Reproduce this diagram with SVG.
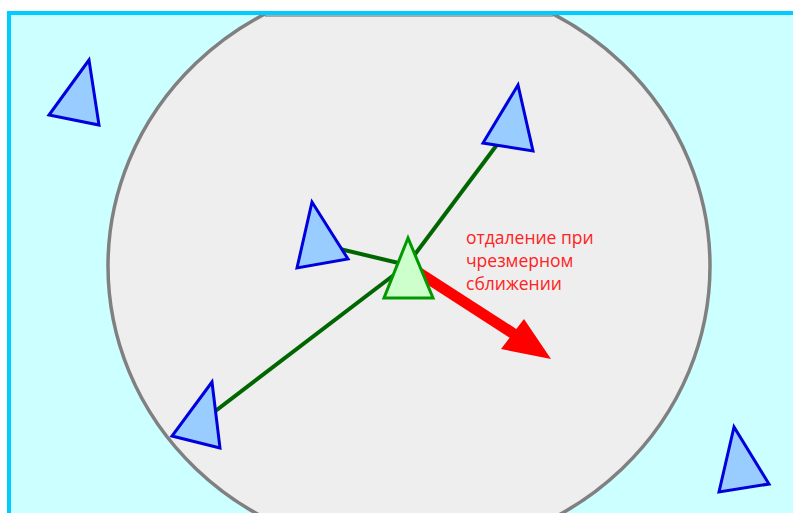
<svg xmlns="http://www.w3.org/2000/svg" width="793" height="513" viewBox="0 0 793 513">
  <style>
    .agent { fill: #99ccff; stroke: #0000dd; stroke-width: 3; stroke-linejoin: miter; }
    .self { fill: #ccffcc; stroke: #009900; stroke-width: 3; }
    .link { stroke: #006600; stroke-width: 4; fill: none; }
    .lbl { font-family: "Open Sans", "Liberation Sans", sans-serif; font-size: 17.5px; fill: #ff2222; }
  </style>
  <defs>
    <clipPath id="box"><rect x="9" y="15" width="784" height="498"/></clipPath>
  </defs>
  <rect x="0" y="0" width="793" height="513" fill="#ffffff"/>
  <rect x="9" y="13" width="790" height="510" fill="#ccffff" stroke="#00ccff" stroke-width="4"/>
  <g id="range" clip-path="url(#box)">
    <ellipse cx="409" cy="266" rx="301" ry="287" fill="#eeeeee" stroke="#808080" stroke-width="3.5"/>
  </g>
  <line x1="265" y1="16" x2="553" y2="16" stroke="#909090" stroke-width="1.5"/>
  <g id="connectors">
    <line class="link" x1="407" y1="265" x2="511" y2="126"/>
    <line class="link" x1="407" y1="265" x2="319" y2="244"/>
    <line class="link" x1="407" y1="265" x2="201" y2="422"/>
    <line x1="407" y1="265" x2="514" y2="334" stroke="#ff0000" stroke-width="11"/>
    <polygon points="551,359 501,349 524,319" fill="#ff0000"/>
  </g>
  <g id="agent1"><polygon class="agent" points="89,60 49,115 99,125"/></g>
  <g id="agent2"><polygon class="agent" points="518,85 483,143 533,151"/></g>
  <g id="agent3"><polygon class="agent" points="312,202 297,268 348,259"/></g>
  <g id="agent4"><polygon class="agent" points="212,382 172,436 220,448"/></g>
  <g id="agent5"><polygon class="agent" points="734,427 719,492 769,484"/></g>
  <g id="self"><polygon class="self" points="408,238 384,298 433,298"/></g>
  <g id="label">
    <text class="lbl" x="466" y="244">отдаление при</text>
    <text class="lbl" x="466" y="267">чрезмерном</text>
    <text class="lbl" x="466" y="290">сближении</text>
  </g>
</svg>
